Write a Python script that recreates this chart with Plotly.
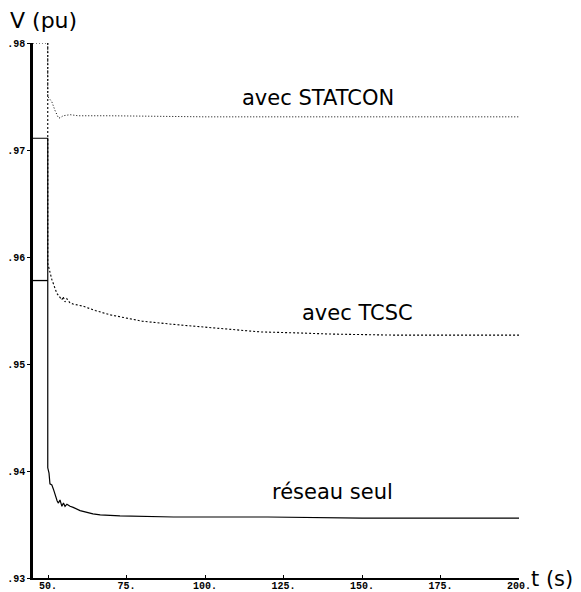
import plotly.graph_objects as go

# ---- data ----
t_reseau = [45.2, 49.9, 49.9, 50.3, 50.6, 51.2, 51.7, 52.2, 52.9, 53.3, 53.8, 54.4, 54.9, 55.4, 56.0,
            57.0, 58.0, 60.2, 62.4, 64.3, 66.6, 72.9, 90.0, 120.0, 150.0, 175.0, 200.0]
v_reseau = [0.9711, 0.9711, 0.9403, 0.9398, 0.9388, 0.9387, 0.9383, 0.9378, 0.9372, 0.9370, 0.9373,
            0.9367, 0.9370, 0.9367, 0.9369, 0.9367, 0.9366, 0.9363, 0.9361, 0.9360, 0.9359, 0.9358,
            0.9357, 0.9357, 0.9356, 0.9356, 0.9356]

t_tcsc_pre = [45.2, 49.9]
v_tcsc_pre = [0.9578, 0.9578]

t_tcsc = [49.9, 49.9, 51.2, 52.8, 54.4, 54.8, 55.4, 56.0, 57.0, 58.0, 61.2, 65.0, 69.7, 72.9,
          80.0, 90.0, 98.4, 110.0, 117.5, 130.0, 139.8, 160.0, 180.0, 200.0]
v_tcsc = [0.9800, 0.9594, 0.9579, 0.9566, 0.9560, 0.9563, 0.9558, 0.9561, 0.9557, 0.9556, 0.9554,
          0.9550, 0.9546, 0.9544, 0.9540, 0.9537, 0.9535, 0.9532, 0.9530, 0.9529, 0.9528, 0.9527,
          0.9527, 0.9527]

t_statcon = [45.2, 49.9, 49.9, 51.2, 52.2, 53.3, 53.8, 54.8, 57.0, 59.6, 69.7, 100.0, 150.0, 200.0]
v_statcon = [0.9800, 0.9800, 0.9750, 0.9745, 0.9737, 0.9730, 0.9730, 0.9732, 0.9733, 0.9732,
             0.9732, 0.9731, 0.9731, 0.9731]

x_tickvals = [50, 75, 100, 125, 150, 175, 200]
x_ticktext = ["50.", "75.", "100.", "125.", "150.", "175.", "200."]
y_tickvals = [0.93, 0.94, 0.95, 0.96, 0.97, 0.98]
y_ticktext = [".93", ".94", ".95", ".96", ".97", ".98"]

labels = ["avec STATCON", "avec TCSC", "réseau seul"]
label_t = [136.0, 148.5, 140.5]
label_v = [0.9749, 0.9548, 0.9380]

# ---- figure ----
fig = go.Figure()
fig.add_trace(go.Scatter(x=t_statcon, y=v_statcon, mode="lines",
                         line=dict(color="black", width=1, dash="1px,2px")))
fig.add_trace(go.Scatter(x=t_tcsc, y=v_tcsc, mode="lines",
                         line=dict(color="black", width=1.1, dash="2px,2px")))
fig.add_trace(go.Scatter(x=t_tcsc_pre, y=v_tcsc_pre, mode="lines",
                         line=dict(color="black", width=1.3)))
fig.add_trace(go.Scatter(x=t_reseau, y=v_reseau, mode="lines",
                         line=dict(color="black", width=1.2)))

for txt, tx, ty in zip(labels, label_t, label_v):
    fig.add_annotation(x=tx, y=ty, text=txt, showarrow=False,
                       font=dict(family="DejaVu Sans", size=21, color="black"))

fig.add_annotation(xref="paper", yref="paper", x=0, y=1, xanchor="left", yanchor="middle",
                   xshift=-25, yshift=23, text="V (pu)", showarrow=False,
                   font=dict(family="DejaVu Sans", size=22, color="black"))
fig.add_annotation(xref="paper", yref="paper", x=1, y=0, xanchor="left", yanchor="middle",
                   xshift=10, yshift=-1, text="t (s)", showarrow=False,
                   font=dict(family="DejaVu Sans", size=21, color="black"))

tickfont = dict(family="Liberation Mono", size=10, color="black")
fig.update_layout(
    width=573, height=584,
    margin=dict(l=25, r=62, t=35, b=14),
    paper_bgcolor="white", plot_bgcolor="white",
    showlegend=False,
    xaxis=dict(range=[45.2, 200], tickvals=x_tickvals,
               ticktext=["<b>" + s + "</b>" for s in x_ticktext], automargin=False,
               showgrid=False, zeroline=False, showline=True, linecolor="black", linewidth=1.5,
               ticks="inside", ticklen=3, tickcolor="black", tickfont=tickfont,
               ticklabelstandoff=-3),
    yaxis=dict(range=[0.93, 0.98], tickvals=y_tickvals,
               ticktext=["<b>" + s + "</b>" for s in y_ticktext], automargin=False,
               showgrid=False, zeroline=False, showline=True, linecolor="black", linewidth=2.5,
               ticks="outside", ticklen=3, tickcolor="black", tickfont=tickfont),
)

fig.write_html("out.html")
